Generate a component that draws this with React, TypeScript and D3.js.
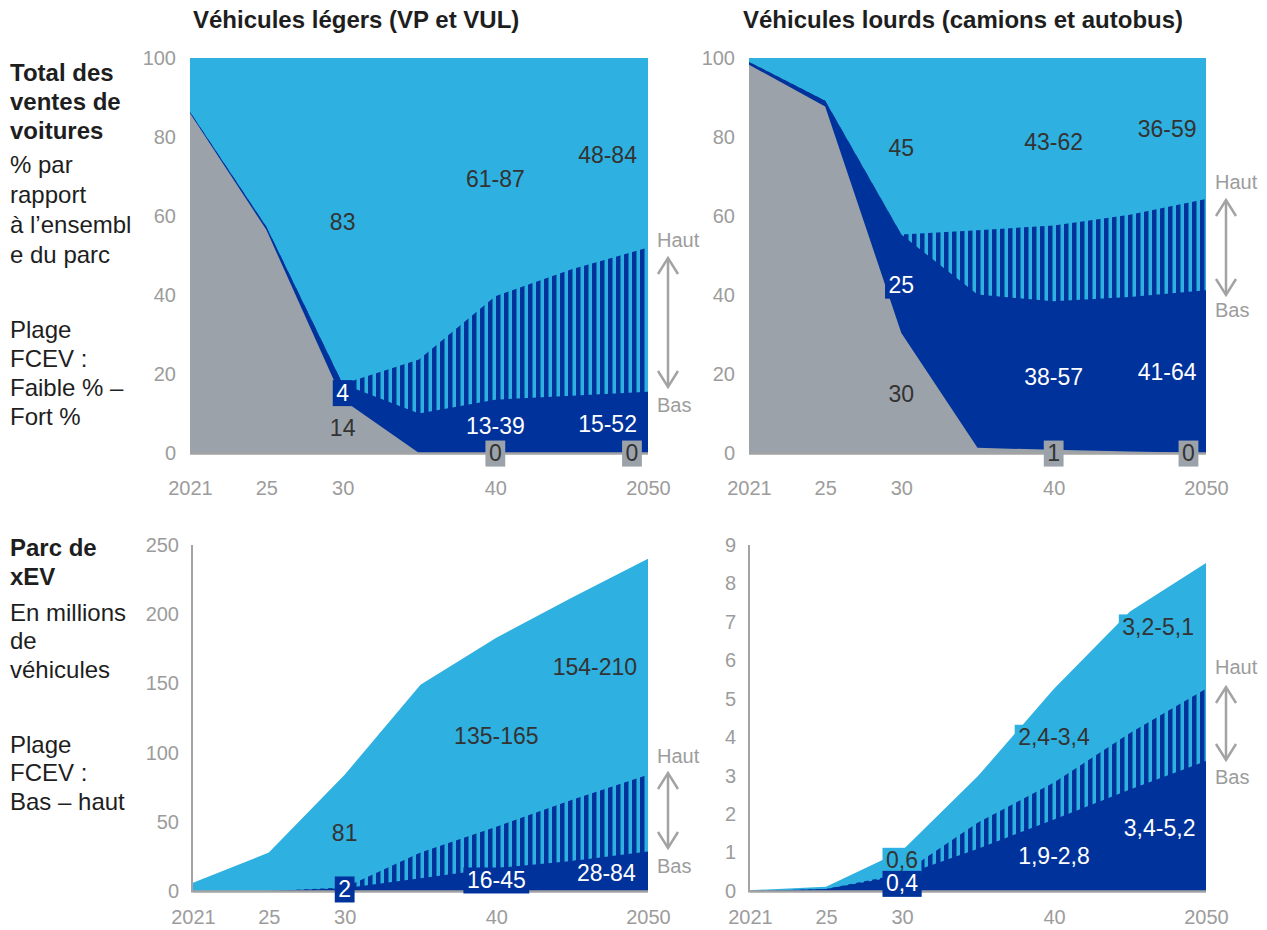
import React, { useEffect, useRef } from 'react';
import * as d3 from 'd3';

const FONT = '"Liberation Sans", Arial, Helvetica, sans-serif';
const C_LIGHT = '#2eb0e0';
const C_DARK = '#00329b';
const C_GRAY = '#9ba2a9';
const C_AXIS = '#a3a3a3';
const C_TICK = '#9c9c9c';
const C_TEXT = '#333333';
const C_BODY = '#1e1e1e';

const years = ['2021', '2025', '2030', '2035', '2040', '2045', '2050'];
const yearTickLabels = ['2021', '25', '30', '', '40', '', '2050'];

// Light vehicles – share of sales (%)
const lvSalesIce = [86, 56.5, 13.5, 0, 0, 0, 0];
const lvSalesFcevLow = [0.3, 0.8, 4, 10, 13.5, 14.5, 15.5];
const lvSalesFcevRange = [0, 0, 0, 13.7, 26.2, 32, 36.5];
const lvSalesBev = [13.7, 42.7, 82.5, 76.3, 60.3, 53.5, 48];

// Heavy vehicles – share of sales (%)
const hvSalesIce = [98.3, 87.7, 30.4, 1.3, 0.8, 0.4, 0];
const hvSalesFcevLow = [0.7, 1.5, 24.9, 38.8, 37.6, 39.1, 41.2];
const hvSalesFcevRange = [0, 0, 0, 16.3, 19.2, 20.8, 23.1];
const hvSalesBev = [1, 10.8, 44.7, 43.6, 42.4, 39.7, 35.7];

// Light vehicles – xEV fleet (millions)
const lvFleetFcevLow = [0, 0, 2, 9.2, 16.5, 21.7, 28.5];
const lvFleetFcevRange = [0, 0, 0.5, 18.6, 30, 44.3, 55.5];
const lvFleetBev = [6, 27.8, 81.5, 121.2, 136.5, 146, 156];

// Heavy vehicles – xEV fleet (millions)
const hvFleetFcevLow = [0, 0.05, 0.4, 1.1, 1.86, 2.64, 3.38];
const hvFleetFcevRange = [0, 0, 0.05, 0.68, 0.96, 1.47, 1.88];
const hvFleetBev = [0.02, 0.06, 0.6, 1.21, 2.44, 3.16, 3.27];

const salesTicks = [0, 20, 40, 60, 80, 100];
const lvFleetTicks = [0, 50, 100, 150, 200, 250];
const hvFleetTicks = [0, 1, 2, 3, 4, 5, 6, 7, 8, 9];

type Label = { pos: number; value: number; text: string; kind: string };

const lvSalesLabels: Label[] = [
  { pos: 2, value: 58.5, text: '83', kind: 'light' },
  { pos: 4, value: 69.5, text: '61-87', kind: 'light' },
  { pos: 5.47, value: 75.5, text: '48-84', kind: 'light' },
  { pos: 2, value: 15.3, text: '4', kind: 'boxDark' },
  { pos: 2, value: 6.4, text: '14', kind: 'gray' },
  { pos: 4, value: 6.9, text: '13-39', kind: 'dark' },
  { pos: 5.47, value: 7.4, text: '15-52', kind: 'dark' },
  { pos: 4, value: 0, text: '0', kind: 'boxGray' },
  { pos: 5.79, value: 0, text: '0', kind: 'boxGray' },
];
const hvSalesLabels: Label[] = [
  { pos: 2, value: 77.2, text: '45', kind: 'light' },
  { pos: 4, value: 78.7, text: '43-62', kind: 'light' },
  { pos: 5.49, value: 82, text: '36-59', kind: 'light' },
  { pos: 2, value: 42.5, text: '25', kind: 'boxDark' },
  { pos: 2, value: 15, text: '30', kind: 'gray' },
  { pos: 4, value: 19.2, text: '38-57', kind: 'dark' },
  { pos: 5.49, value: 20.5, text: '41-64', kind: 'dark' },
  { pos: 4, value: 0, text: '1', kind: 'boxGray' },
  { pos: 5.77, value: 0, text: '0', kind: 'boxGray' },
];
const lvFleetLabels: Label[] = [
  { pos: 5.3, value: 162, text: '154-210', kind: 'light' },
  { pos: 4, value: 112, text: '135-165', kind: 'light' },
  { pos: 2, value: 42, text: '81', kind: 'light' },
  { pos: 2, value: 1.5, text: '2', kind: 'boxDark' },
  { pos: 4, value: 8, text: '16-45', kind: 'boxDark' },
  { pos: 5.45, value: 13, text: '28-84', kind: 'boxDark' },
];
const hvFleetLabels: Label[] = [
  { pos: 5.37, value: 6.87, text: '3,2-5,1', kind: 'boxLight' },
  { pos: 4, value: 4.0, text: '2,4-3,4', kind: 'boxLight' },
  { pos: 2, value: 0.8, text: '0,6', kind: 'boxLight' },
  { pos: 2, value: 0.2, text: '0,4', kind: 'boxDark' },
  { pos: 4, value: 0.9, text: '1,9-2,8', kind: 'dark' },
  { pos: 5.39, value: 1.65, text: '3,4-5,2', kind: 'dark' },
];

const topLeftText = [
  { t: 'Total des', y: 81, b: true },
  { t: 'ventes de', y: 110, b: true },
  { t: 'voitures', y: 139, b: true },
  { t: '% par', y: 173, b: false },
  { t: 'rapport', y: 203, b: false },
  { t: 'à l’ensembl', y: 233, b: false },
  { t: 'e du parc', y: 263, b: false },
  { t: 'Plage', y: 338, b: false },
  { t: 'FCEV :', y: 367, b: false },
  { t: 'Faible % –', y: 396, b: false },
  { t: 'Fort %', y: 425, b: false },
];
const bottomLeftText = [
  { t: 'Parc de', y: 556, b: true },
  { t: 'xEV', y: 585, b: true },
  { t: 'En millions', y: 621, b: false },
  { t: 'de', y: 649, b: false },
  { t: 'véhicules', y: 678, b: false },
  { t: 'Plage', y: 753, b: false },
  { t: 'FCEV :', y: 781, b: false },
  { t: 'Bas – haut', y: 810, b: false },
];

type Chart = {
  left: number; right: number; top: number; bottom: number; max: number;
  ticks: number[]; ice: number[] | null; low: number[]; range: number[]; bev: number[];
  labels: Label[]; leftAxis: boolean; xLabelY: number;
  arrow: { haut: number; top: number; bottom: number; bas: number };
};

const charts: Chart[] = [
  { left: 190, right: 648, top: 58, bottom: 453, max: 100, ticks: salesTicks,
    ice: lvSalesIce, low: lvSalesFcevLow, range: lvSalesFcevRange, bev: lvSalesBev,
    labels: lvSalesLabels, leftAxis: false, xLabelY: 495,
    arrow: { haut: 247, top: 258, bottom: 387, bas: 412 } },
  { left: 749, right: 1206, top: 58, bottom: 453, max: 100, ticks: salesTicks,
    ice: hvSalesIce, low: hvSalesFcevLow, range: hvSalesFcevRange, bev: hvSalesBev,
    labels: hvSalesLabels, leftAxis: false, xLabelY: 495,
    arrow: { haut: 189, top: 200, bottom: 295, bas: 317 } },
  { left: 193, right: 648, top: 545, bottom: 891, max: 250, ticks: lvFleetTicks,
    ice: null, low: lvFleetFcevLow, range: lvFleetFcevRange, bev: lvFleetBev,
    labels: lvFleetLabels, leftAxis: true, xLabelY: 924,
    arrow: { haut: 763, top: 773, bottom: 848, bas: 873 } },
  { left: 750, right: 1206, top: 545, bottom: 891, max: 9, ticks: hvFleetTicks,
    ice: null, low: hvFleetFcevLow, range: hvFleetFcevRange, bev: hvFleetBev,
    labels: hvFleetLabels, leftAxis: true, xLabelY: 924,
    arrow: { haut: 674, top: 687, bottom: 760, bas: 784 } },
];

export default function App() {
  const ref = useRef<SVGSVGElement | null>(null);

  useEffect(() => {
    const svg = d3.select(ref.current);
    svg.selectAll('*').remove();

    const defs = svg.append('defs');
    const pat = defs.append('pattern').attr('id', 'hatch')
      .attr('patternUnits', 'userSpaceOnUse').attr('width', 8).attr('height', 8);
    pat.append('rect').attr('width', 8).attr('height', 8).attr('fill', C_LIGHT);
    pat.append('rect').attr('width', 4.5).attr('height', 8).attr('fill', C_DARK);

    // Titles
    svg.append('text').attr('x', 193).attr('y', 28).text('Véhicules légers (VP et VUL)')
      .attr('font-weight', 'bold').attr('font-size', 24).attr('fill', C_BODY).attr('font-family', FONT);
    svg.append('text').attr('x', 743).attr('y', 28).text('Véhicules lourds (camions et autobus)')
      .attr('font-weight', 'bold').attr('font-size', 24).attr('fill', C_BODY).attr('font-family', FONT);

    // Left text column
    [...topLeftText, ...bottomLeftText].forEach((l) => {
      svg.append('text').attr('x', 10).attr('y', l.y).text(l.t)
        .attr('font-weight', l.b ? 'bold' : 'normal').attr('font-size', 24)
        .attr('fill', C_BODY).attr('font-family', FONT);
    });

    charts.forEach((c) => {
      const g = svg.append('g');
      const x = d3.scaleLinear().domain([0, years.length - 1]).range([c.left, c.right]);
      const y = d3.scaleLinear().domain([0, c.max]).range([c.bottom, c.top]);

      const keys = c.ice ? ['ice', 'low', 'range', 'bev'] : ['low', 'range', 'bev'];
      const rows = years.map((yr, i) => ({
        year: yr,
        ice: c.ice ? c.ice[i] : 0,
        low: c.low[i],
        range: c.range[i],
        bev: c.bev[i],
      }));
      const series = d3.stack<any>().keys(keys)(rows);
      const fills: Record<string, string> = { ice: C_GRAY, low: C_DARK, range: 'url(#hatch)', bev: C_LIGHT };

      // draw cumulative areas from the baseline, top layer first (avoids seams)
      const area = d3.area<any>()
        .x((_d, i) => x(i))
        .y0(() => y(0))
        .y1((d) => y(d[1]));
      [...series].reverse().forEach((s) => {
        g.append('path').attr('d', area(s as any) as string).attr('fill', fills[s.key]);
      });

      // axes
      const axisG = g.append('g');
      axisG.append('line').attr('x1', c.left).attr('x2', c.right)
        .attr('y1', c.bottom + 0.5).attr('y2', c.bottom + 0.5)
        .attr('stroke', C_AXIS).attr('stroke-width', 2.5);
      if (c.leftAxis) {
        axisG.append('line').attr('x1', c.left - 1).attr('x2', c.left - 1)
          .attr('y1', c.top).attr('y2', c.bottom + 1.5)
          .attr('stroke', C_AXIS).attr('stroke-width', 2);
      }
      const yAxis = d3.axisLeft(y).tickValues(c.ticks).tickSize(0).tickPadding(14);
      const ya = g.append('g').attr('transform', `translate(${c.left},0)`).call(yAxis);
      ya.select('.domain').remove();
      ya.selectAll('text').attr('font-size', 20).attr('fill', C_TICK).attr('font-family', FONT);

      const xAxis = d3.axisBottom(x).tickValues(d3.range(years.length))
        .tickFormat((i: any) => yearTickLabels[i]).tickSize(0).tickPadding(0);
      const xa = g.append('g').attr('transform', `translate(0,${c.xLabelY})`).call(xAxis);
      xa.select('.domain').remove();
      xa.selectAll('text').attr('dy', 0).attr('y', 0).attr('font-size', 20)
        .attr('fill', C_TICK).attr('font-family', FONT);

      // data labels
      c.labels.forEach((lb) => {
        const lx = x(lb.pos);
        const ly = y(lb.value);
        const lg = g.append('g');
        const t = lg.append('text').attr('x', lx).attr('y', ly).attr('dy', '0.35em')
          .attr('text-anchor', 'middle').attr('font-size', 23).attr('font-family', FONT)
          .text(lb.text);
        const color =
          lb.kind === 'dark' || lb.kind === 'boxDark' ? '#ffffff' : C_TEXT;
        t.attr('fill', color);
        if (lb.kind.startsWith('box')) {
          const bb = (t.node() as SVGTextElement).getBBox();
          const bg = lb.kind === 'boxDark' ? C_DARK : lb.kind === 'boxGray' ? C_GRAY : C_LIGHT;
          lg.insert('rect', 'text').attr('x', bb.x - 3.5).attr('y', bb.y + 0.5)
            .attr('width', bb.width + 7).attr('height', bb.height).attr('fill', bg);
        }
      });

      // Haut / Bas arrow
      const ax = c.right + 20;
      const tx = c.right + 9;
      const a = c.arrow;
      g.append('text').attr('x', tx).attr('y', a.haut).text('Haut').attr('font-size', 20)
        .attr('fill', C_TICK).attr('font-family', FONT);
      g.append('text').attr('x', tx).attr('y', a.bas).text('Bas').attr('font-size', 20)
        .attr('fill', C_TICK).attr('font-family', FONT);
      const ag = g.append('g').attr('stroke', C_AXIS).attr('stroke-width', 2.5).attr('fill', 'none');
      ag.append('line').attr('x1', ax).attr('x2', ax).attr('y1', a.top + 1).attr('y2', a.bottom - 1);
      ag.append('path').attr('d', `M${ax - 10},${a.top + 16}L${ax},${a.top}L${ax + 10},${a.top + 16}`);
      ag.append('path').attr('d', `M${ax - 10},${a.bottom - 16}L${ax},${a.bottom}L${ax + 10},${a.bottom - 16}`);
    });
  }, []);

  return (
    <svg
      ref={ref}
      width={1267}
      height={930}
      style={{ position: 'absolute', left: 0, top: 0, background: '#ffffff', fontFamily: FONT }}
    />
  );
}
